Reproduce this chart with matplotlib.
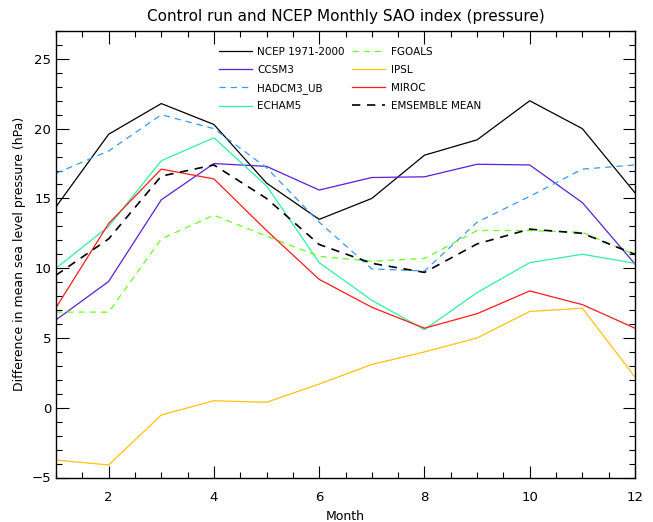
import numpy as np
import matplotlib
matplotlib.use("Agg")
from matplotlib import pyplot as plt
from matplotlib.ticker import MultipleLocator

months = np.arange(1, 13)

# monthly SAO index values (hPa)
ncep = [14.4, 19.6, 21.8, 20.3, 16.1, 13.5, 15.0, 18.1, 19.2, 22.0, 20.0, 15.4]
ccsm3 = [6.3, 9.05, 14.9, 17.5, 17.3, 15.6, 16.5, 16.55, 17.45, 17.4, 14.7, 10.3]
hadcm3 = [16.8, 18.4, 21.0, 20.0, 17.2, 13.3, 9.95, 9.8, 13.3, 15.15, 17.1, 17.4]
echam5 = [10.0, 13.0, 17.7, 19.35, 15.9, 10.4, 7.7, 5.6, 8.25, 10.4, 11.0, 10.35]
fgoals = [6.86, 6.85, 12.1, 13.8, 12.3, 10.85, 10.5, 10.7, 12.7, 12.7, 12.57, 10.97]
ipsl = [-3.75, -4.1, -0.52, 0.5, 0.39, 1.7, 3.1, 4.0, 5.0, 6.9, 7.13, 2.2]
miroc = [7.17, 13.2, 17.1, 16.4, 12.7, 9.2, 7.2, 5.7, 6.74, 8.37, 7.39, 5.7]
ens_mean = [9.5, 12.1, 16.6, 17.4, 15.0, 11.7, 10.35, 9.7, 11.74, 12.8, 12.5, 11.0]

fig = plt.figure(figsize=(6.53, 5.22), dpi=100)
ax = fig.add_axes([56/653, 1-477.5/522, (635-56)/653, (477.5-31)/522])

lw = 0.9
ax.plot(months, ncep, color='black', lw=lw, label='NCEP 1971-2000')
ax.plot(months, ccsm3, color='#5b1fd6', lw=lw, label='CCSM3')
ax.plot(months, hadcm3, color='#3399ff', lw=lw, ls=(0, (5, 4)), label='HADCM3_UB')
ax.plot(months, echam5, color='#2ef0a0', lw=lw, label='ECHAM5')
ax.plot(months, fgoals, color='#66ff22', lw=lw, ls=(0, (5, 4)), label='FGOALS')
ax.plot(months, ipsl, color='#ffc20e', lw=lw, label='IPSL')
ax.plot(months, miroc, color='#ff1a1a', lw=lw, label='MIROC')
ax.plot(months, ens_mean, color='black', lw=1.2, ls=(0, (5, 4)), label='EMSEMBLE MEAN')

ax.set_xlim(1, 12)
ax.set_ylim(-5, 27)
ax.xaxis.set_major_locator(MultipleLocator(2))
ax.xaxis.set_minor_locator(MultipleLocator(0.5))
ax.yaxis.set_major_locator(MultipleLocator(5))
ax.yaxis.set_minor_locator(MultipleLocator(1))
ax.tick_params(which='both', direction='in', top=True, right=True, labelsize=9.5)
ax.tick_params(which='major', length=9, width=0.8)
ax.tick_params(which='minor', length=4.5, width=0.8)
ax.tick_params(axis='x', pad=10)
for s in ax.spines.values():
    s.set_linewidth(1.0)

ax.set_xlabel('Month', fontsize=9)
ax.set_ylabel('Difference in mean sea level pressure (hPa)', fontsize=9)
ax.set_title('Control run and NCEP Monthly SAO index (pressure)', fontsize=11, pad=7)

ax.legend(loc='upper left', bbox_to_anchor=(0.265, 0.985), ncol=2, frameon=False,
          fontsize=7.5, handlelength=3.2, columnspacing=0.7, labelspacing=0.75,
          handletextpad=0.5)

fig.savefig('out.png', dpi=100)
